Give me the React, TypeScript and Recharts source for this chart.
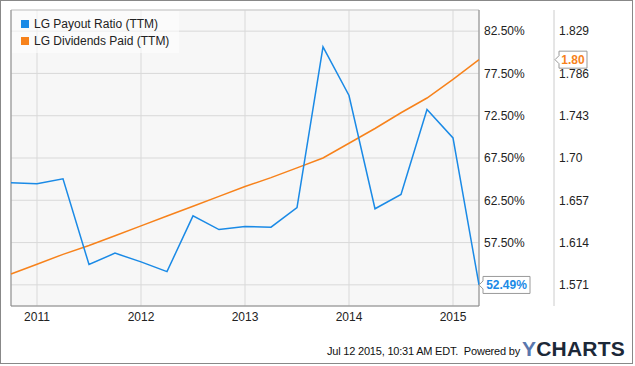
import {
  CartesianGrid,
  ComposedChart,
  Line,
  ReferenceLine,
  XAxis,
  YAxis,
} from 'recharts'

const quarters = [
  2010.75, 2011, 2011.25, 2011.5, 2011.75, 2012, 2012.25, 2012.5, 2012.75, 2013, 2013.25,
  2013.5, 2013.75, 2014, 2014.25, 2014.5, 2014.75, 2015, 2015.25,
]
const payoutRatio = [
  64.56, 64.45, 65.04, 54.9, 56.25, 55.22, 54.07, 60.66, 59.04, 59.4, 59.32, 61.64, 80.64,
  74.89, 61.5, 63.2, 73.23, 69.88, 52.49,
]
const dividendsPaid = [
  1.582, 1.592, 1.602, 1.611, 1.621, 1.631, 1.641, 1.651, 1.661, 1.671, 1.68, 1.69, 1.7,
  1.715, 1.73, 1.746, 1.761, 1.78, 1.8,
]
const yearTicks = [2011, 2012, 2013, 2014, 2015]
const pctTicks = [52.5, 57.5, 62.5, 67.5, 72.5, 77.5, 82.5]
const divTicks = [1.571, 1.614, 1.657, 1.7, 1.743, 1.786, 1.829]
const divTickLabels = ['1.571', '1.614', '1.657', '1.70', '1.743', '1.786', '1.829']

const BLUE = '#1a8ae6'
const ORANGE = '#f7821b'
const FONT = '"Liberation Sans", Arial, sans-serif'

const data = quarters.map((t, i) => ({ t, pct: payoutRatio[i], div: dividendsPaid[i] }))

function makeCallout(color: string, text: string, shift: number, boxW: number) {
  return (props: any) => {
    const { x, y, index } = props
    if (index !== data.length - 1) return null
    const tx = x + shift
    const l = tx + 4
    const r = l + boxW
    const t = y - 8.5
    const b = y + 8.5
    const d = `M${tx},${y} L${l},${y - 4} L${l},${t} L${r},${t} L${r},${b} L${l},${b} L${l},${y + 4} Z`
    return (
      <g>
        <path d={d} fill="#fff" stroke="#999" strokeWidth={1} />
        <text
          x={l + boxW / 2}
          y={y + 4.5}
          textAnchor="middle"
          fill={color}
          fontSize={12}
          fontWeight="bold"
          fontFamily={FONT}
        >
          {text}
        </text>
      </g>
    )
  }
}

export default function App() {
  const tick = { fontSize: 12, fill: '#222', fontFamily: FONT }
  return (
    <div style={{ position: 'relative', width: 635, height: 366, background: '#fff', fontFamily: FONT }}>
      <style>{'body{margin:0}'}</style>
      <div
        style={{
          position: 'absolute',
          left: 0,
          top: 0,
          width: 633,
          height: 364,
          border: '1px solid #888',
          boxSizing: 'border-box',
        }}
      />
      <ComposedChart
        width={635}
        height={366}
        data={data}
        margin={{ top: 10, right: 0, left: 11, bottom: 40 }}
        style={{ position: 'absolute', left: 0, top: 0 }}
      >
        <CartesianGrid yAxisId="a" stroke="#d9d9d9" fill="#f7f7f7" />
        <XAxis
          dataKey="t"
          type="number"
          domain={[2010.75, 2015.25]}
          ticks={yearTicks}
          tick={tick}
          tickSize={0}
          tickMargin={6}
          axisLine={false}
          height={20}
        />
        <YAxis
          yAxisId="a"
          orientation="right"
          domain={[50, 85]}
          ticks={pctTicks}
          tickFormatter={(v) => (v === 52.5 ? '' : `${Number(v).toFixed(2)}%`)}
          tick={tick}
          tickSize={0}
          tickMargin={5}
          axisLine={false}
          width={75}
        />
        <YAxis
          yAxisId="b"
          orientation="right"
          domain={[1.5495, 1.8505]}
          ticks={divTicks}
          tickFormatter={(v) => divTickLabels[divTicks.indexOf(v)] ?? String(v)}
          tick={tick}
          tickSize={0}
          tickMargin={5}
          axisLine={{ stroke: '#cccccc' }}
          width={81}
        />
        <ReferenceLine yAxisId="a" y={85} stroke="#cfcfcf" />
        <ReferenceLine yAxisId="a" y={50} stroke="#888" />
        <ReferenceLine yAxisId="a" x={2010.75} stroke="#888" />
        <ReferenceLine yAxisId="a" x={2015.25} stroke="#888" />
        <Line
          yAxisId="b"
          dataKey="div"
          stroke={ORANGE}
          strokeWidth={1.5}
          dot={false}
          isAnimationActive={false}
          label={makeCallout(ORANGE, '1.80', 76, 28)}
        />
        <Line
          yAxisId="a"
          dataKey="pct"
          stroke={BLUE}
          strokeWidth={1.5}
          dot={false}
          isAnimationActive={false}
          label={makeCallout(BLUE, '52.49%', 0, 47)}
        />
      </ComposedChart>
      <div
        style={{
          position: 'absolute',
          left: 12,
          top: 11,
          width: 167,
          height: 42,
          background: 'rgba(255,255,255,0.55)',
          fontSize: 12,
          color: '#222',
        }}
      >
        {[
          ['LG Payout Ratio (TTM)', BLUE],
          ['LG Dividends Paid (TTM)', ORANGE],
        ].map(([name, color], i) => (
          <div
            key={name}
            style={{ position: 'absolute', left: 9, top: 6 + i * 17, display: 'flex', alignItems: 'center' }}
          >
            <span style={{ width: 8, height: 8, background: color, display: 'inline-block', marginRight: 5 }} />
            <span>{name}</span>
          </div>
        ))}
      </div>
      <div
        style={{
          position: 'absolute',
          left: 327,
          top: 345,
          fontSize: 11,
          color: '#111',
          letterSpacing: -0.2,
          whiteSpace: 'nowrap',
        }}
      >
        Jul 12 2015, 10:31 AM EDT.&nbsp; Powered by
      </div>
      <div
        style={{
          position: 'absolute',
          left: 522,
          top: 337,
          fontSize: 21,
          fontWeight: 'bold',
          letterSpacing: 0.2,
          color: '#1c2838',
          whiteSpace: 'nowrap',
        }}
      >
        <span style={{ color: '#5a77ad' }}>Y</span>CHARTS
      </div>
    </div>
  )
}
